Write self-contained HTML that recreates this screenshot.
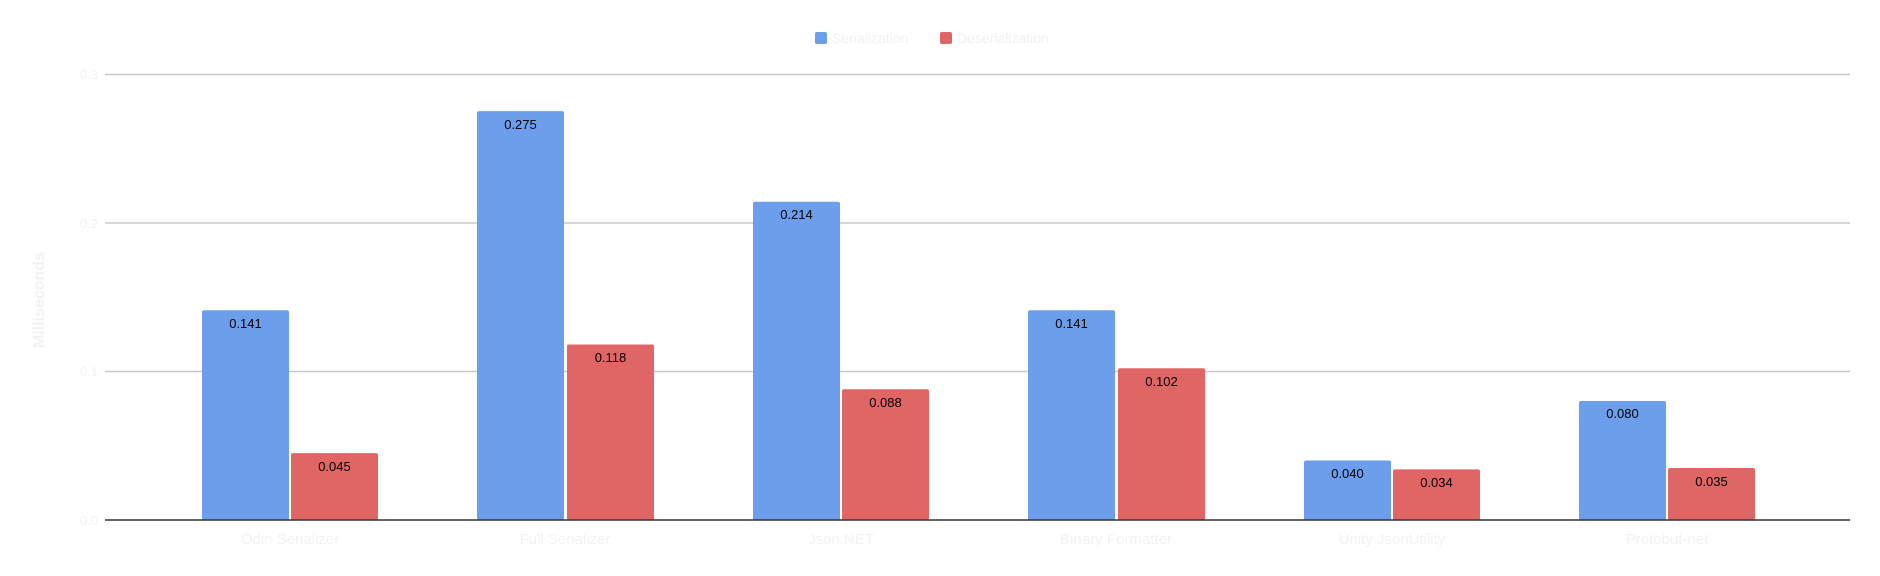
<!DOCTYPE html>
<html><head><meta charset="utf-8"><style>
html,body{margin:0;padding:0;background:#fff;}
svg{display:block;font-family:"Liberation Sans",Roboto,sans-serif;}
</style></head><body>
<svg width="1880" height="576" viewBox="0 0 1880 576">
<rect width="1880" height="576" fill="#fff"/>
<g stroke="#c8c8c8" stroke-width="1.5">
<line x1="105" y1="74.5" x2="1850" y2="74.5"/>
<line x1="105" y1="223" x2="1850" y2="223"/>
<line x1="105" y1="371.5" x2="1850" y2="371.5"/>
</g>
<g fill="#f2f2f2" font-size="13" text-anchor="end">
<text x="98" y="79">0.3</text><text x="98" y="228">0.2</text><text x="98" y="376">0.1</text><text x="98" y="525">0.0</text>
</g>
<text transform="translate(44,300) rotate(-90)" fill="#f2f2f2" font-size="16" font-weight="bold" text-anchor="middle">Milliseconds</text>
<g fill="#6d9eeb">
<rect x="202" y="310.3" width="87" height="209.7" rx="2"/>
<rect x="477" y="111.1" width="87" height="408.9" rx="2"/>
<rect x="753" y="201.8" width="87" height="318.2" rx="2"/>
<rect x="1028" y="310.3" width="87" height="209.7" rx="2"/>
<rect x="1304" y="460.5" width="87" height="59.5" rx="2"/>
<rect x="1579" y="401" width="87" height="119" rx="2"/>
</g>
<g fill="#e06666">
<rect x="291" y="453.1" width="87" height="66.9" rx="2"/>
<rect x="567" y="344.5" width="87" height="175.5" rx="2"/>
<rect x="842" y="389.2" width="87" height="130.8" rx="2"/>
<rect x="1118" y="368.3" width="87" height="151.7" rx="2"/>
<rect x="1393" y="469.4" width="87" height="50.6" rx="2"/>
<rect x="1668" y="468" width="87" height="52" rx="2"/>
</g>
<line x1="105" y1="520" x2="1850" y2="520" stroke="#333" stroke-width="1.5"/>
<g fill="#000" font-size="13" text-anchor="middle">
<text x="245.5" y="328">0.141</text><text x="334.5" y="471">0.045</text>
<text x="520.5" y="129">0.275</text><text x="610.5" y="362">0.118</text>
<text x="796.5" y="219">0.214</text><text x="885.5" y="407">0.088</text>
<text x="1071.5" y="328">0.141</text><text x="1161.5" y="386">0.102</text>
<text x="1347.5" y="478">0.040</text><text x="1436.5" y="487">0.034</text>
<text x="1622.5" y="418">0.080</text><text x="1711.5" y="486">0.035</text>
</g>
<g fill="#f2f2f2" font-size="15" text-anchor="middle">
<text x="290" y="544">Odin Serializer</text>
<text x="565" y="544">Full Serializer</text>
<text x="841" y="544">Json.NET</text>
<text x="1116" y="544">Binary Formatter</text>
<text x="1392" y="544">Unity JsonUtility</text>
<text x="1667" y="544">Protobuf-net</text>
</g>
<rect x="815" y="32" width="12" height="12" rx="2" fill="#6d9eeb"/>
<text x="832" y="43" fill="#f2f2f2" font-size="14">Serialization</text>
<rect x="940" y="32" width="12" height="12" rx="2" fill="#e06666"/>
<text x="957" y="43" fill="#f2f2f2" font-size="14">Deserialization</text>
</svg>
</body></html>
